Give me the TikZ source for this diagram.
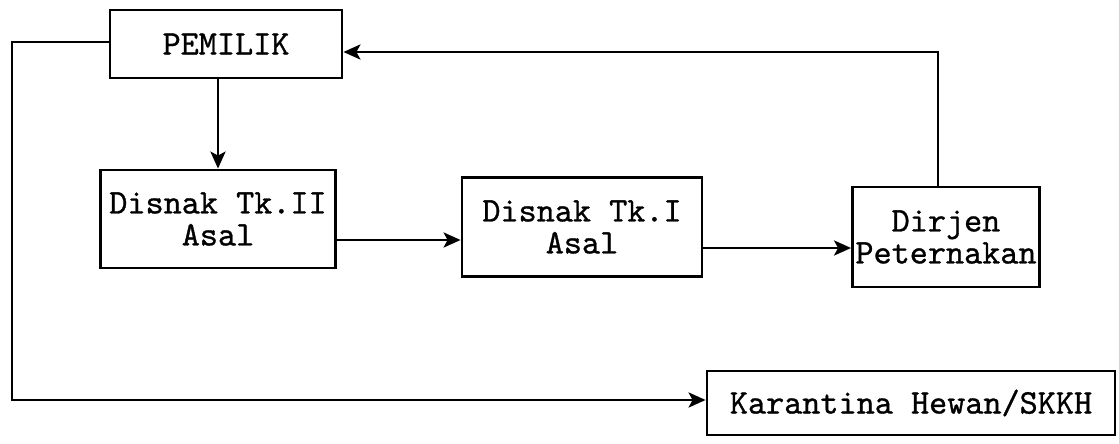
\documentclass[tikz,border=0pt]{standalone}
\usepackage{fontspec}
\newfontfamily\twfont{lmmono10-regular}[Extension=.otf,FakeBold=0.9]
\usetikzlibrary{arrows.meta}
\begin{document}
\begin{tikzpicture}[x=1pt,y=-1pt,
  box/.style={draw,line width=2.8pt,rectangle,inner sep=0pt,align=center,
    font=\twfont\fontsize{34.5}{32}\selectfont},
  conn/.style={line width=2.8pt,line join=miter},
  arr/.style={conn,-{Stealth[length=17pt,width=15pt,inset=4pt]}}]
\useasboundingbox (0,0) rectangle (1119,444);
\node[box,minimum width=232pt,minimum height=68pt] (pem) at (226,44) {PEMILIK};
\node[box,minimum width=235pt,minimum height=98pt] (d2) at (218,219) {Disnak Tk.II\\Asal};
\node[box,minimum width=240pt,minimum height=99pt] (d1) at (582,227) {Disnak Tk.I\\Asal};
\node[box,minimum width=187pt,minimum height=100pt] (dir) at (946,237) {Dirjen\\Peternakan};
\node[box,minimum width=408pt,minimum height=64pt] (kar) at (911,403) {Karantina Hewan/SKKH};
\coordinate (lt) at (12,42);
\coordinate (lb) at (12,400);
\coordinate (rt) at (938,52);
\coordinate (r1) at (0,240);
\coordinate (r2) at (0,248);
\draw[arr] (pem.west |- lt) -- (lt) -- (lb) -- (kar.west |- lb);
\draw[arr] (d2.north |- pem.south) -- (d2.north);
\draw[arr] (d2.east |- r1) -- (d1.west |- r1);
\draw[arr] (d1.east |- r2) -- (dir.west |- r2);
\draw[arr] (dir.north -| rt) -- (rt) -- (pem.east |- rt);
\end{tikzpicture}
\end{document}
